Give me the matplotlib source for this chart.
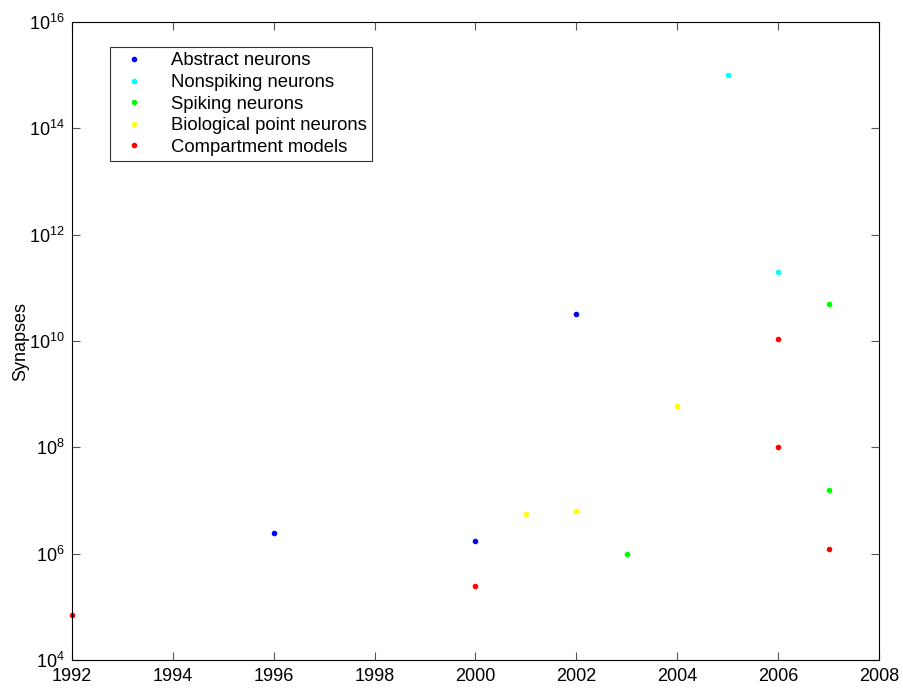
import matplotlib.pyplot as plt
import numpy as np

plt.rcParams['font.family'] = ['Liberation Sans', 'DejaVu Sans']

# data
abstract_year = [1996, 2000, 2002]
abstract_syn = [2.5e6, 1.7e6, 3.2e10]
nonspiking_year = [2005, 2006]
nonspiking_syn = [1e15, 2e11]
spiking_year = [2003, 2007, 2007]
spiking_syn = [1e6, 5e10, 1.6e7]
bio_year = [2001, 2002, 2004]
bio_syn = [5.5e6, 6.3e6, 6e8]
comp_year = [1992, 2000, 2006, 2006, 2007]
comp_syn = [7e4, 2.5e5, 1.1e10, 1e8, 1.2e6]

series = [
    (abstract_year, abstract_syn, '#0000ff', 'Abstract neurons'),
    (nonspiking_year, nonspiking_syn, '#00ffff', 'Nonspiking neurons'),
    (spiking_year, spiking_syn, '#00ff00', 'Spiking neurons'),
    (bio_year, bio_syn, '#ffff00', 'Biological point neurons'),
    (comp_year, comp_syn, '#ff0000', 'Compartment models'),
]

fig = plt.figure(figsize=(9.04, 6.92), dpi=100)
ax = fig.add_axes([0.0796, 0.0462, 0.8927, 0.9220])

for x, y, c, lab in series:
    ax.plot(x, y, '.', color=c, markersize=6, label=lab, clip_on=False)

ax.set_yscale('log')
ax.set_xlim(1992, 2008)
ax.set_ylim(1e4, 1e16)
ax.set_xticks(np.arange(1992, 2009, 2))
ax.set_yticks([10.0**k for k in range(4, 17, 2)])
ax.yaxis.set_minor_locator(plt.NullLocator())
ax.tick_params(direction='in', which='both', top=True, right=True,
               labelsize=13, length=6, color='#555555')
ax.tick_params(axis='x', pad=6)
ax.tick_params(axis='y', pad=5)
ax.set_ylabel('Synapses', fontsize=13, labelpad=0)

leg = ax.legend(loc='upper left', bbox_to_anchor=(0.047, 0.961), fontsize=13.3,
                frameon=True, fancybox=False, edgecolor='black',
                handletextpad=1.0, labelspacing=0.25, borderpad=0.3,
                borderaxespad=0, handlelength=2.0)
leg.get_frame().set_linewidth(0.8)

fig.savefig('out.png', dpi=100)
